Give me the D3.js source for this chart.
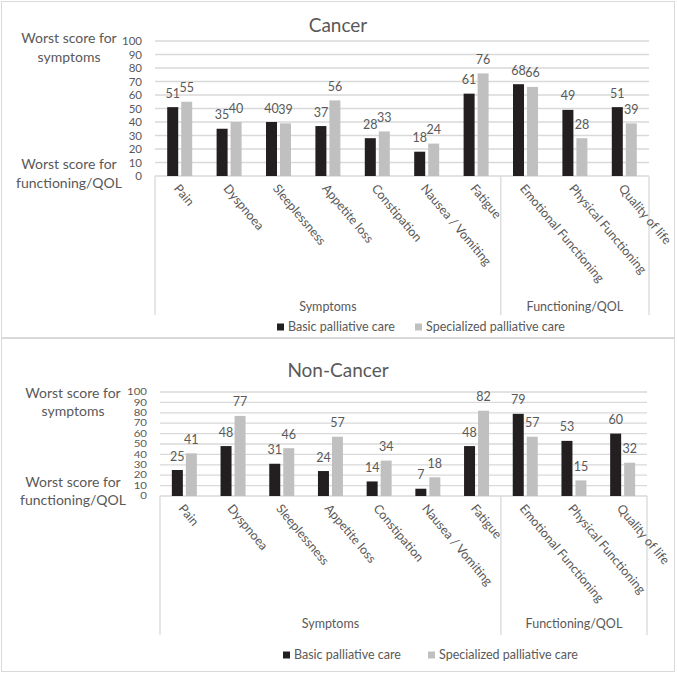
<!DOCTYPE html>
<html>
<head>
<meta charset="utf-8">
<script src="https://cdn.jsdelivr.net/npm/d3@7"></script>
<style>
  body { margin: 0; background: #fff; }
  text { font-family: Lato, "Liberation Sans", sans-serif; fill: #595959; }
</style>
</head>
<body>
<div id="chart"></div>
<script>
var categories = ["Pain", "Dyspnoea", "Sleeplessness", "Appetite loss", "Constipation",
                  "Nausea / Vomiting", "Fatigue", "Emotional Functioning", "Physical Functioning", "Quality of life"];
var groups = ["Symptoms", "Symptoms", "Symptoms", "Symptoms", "Symptoms", "Symptoms", "Symptoms",
              "Functioning/QOL", "Functioning/QOL", "Functioning/QOL"];
var seriesNames = ["Basic palliative care", "Specialized palliative care"];
var cancerBasic = [51, 35, 40, 37, 28, 18, 61, 68, 49, 51];
var cancerSpecialized = [55, 40, 39, 56, 33, 24, 76, 66, 28, 39];
var nonCancerBasic = [25, 48, 31, 24, 14, 7, 48, 79, 53, 60];
var nonCancerSpecialized = [41, 77, 46, 57, 34, 18, 82, 57, 15, 32];
var yTicks = [0, 10, 20, 30, 40, 50, 60, 70, 80, 90, 100];

var colors = ["#231f20", "#c0c0c0"];
var gridColor = "#d9d9d9";

var svg = d3.select("#chart").append("svg")
    .attr("width", 677)
    .attr("height", 677);

function drawPanel(p) {
  var g = svg.append("g");

  // panel border
  g.append("rect")
      .attr("x", 1.5).attr("y", p.top + 0.5)
      .attr("width", 673).attr("height", p.height)
      .attr("fill", "none").attr("stroke", gridColor);

  g.append("text")
      .attr("x", 338).attr("y", p.titleY)
      .attr("text-anchor", "middle")
      .attr("font-size", 19)
      .text(p.title);

  var x0 = d3.scaleBand().domain(categories).range([p.left, p.right]).padding(0);
  var x1 = d3.scaleBand().domain(seriesNames).range([-12.5, 12.5]).paddingInner(0.214);
  var y = d3.scaleLinear().domain([0, 100]).range([p.y0, p.y100]);

  // gridlines
  g.selectAll(".grid").data(yTicks).enter().append("line")
      .attr("x1", p.left).attr("x2", p.right)
      .attr("y1", function(d) { return y(d); })
      .attr("y2", function(d) { return y(d); })
      .attr("stroke", gridColor).attr("stroke-width", 1.3);

  // y tick labels (bottom panel is squeezed, so scale the glyphs vertically)
  g.selectAll(".ytick").data(yTicks).enter().append("text")
      .attr("transform", function(d) {
        return "translate(" + p.tickRight + "," + y(d) + ") scale(" + p.tickScale + ")";
      })
      .attr("dy", "0.35em")
      .attr("text-anchor", "end")
      .attr("font-size", p.tickSize)
      .text(function(d) { return d; });

  // y axis titles
  [[p.yTitleTop, ["Worst score for", "symptoms"]], [p.yTitleBottom, ["Worst score for", "functioning/QOL"]]]
    .forEach(function(t) {
      t[1].forEach(function(line, i) {
        g.append("text")
            .attr("x", p.yTitleX)
            .attr("y", t[0] + i * p.yTitleGap)
            .attr("dy", "0.35em")
            .attr("text-anchor", "middle")
            .attr("font-size", 14)
            .text(line);
      });
    });

  // category group lines
  var splits = [0, 7, 10];
  splits.forEach(function(i) {
    var xx = i < 10 ? x0(categories[i]) : p.right;
    g.append("line")
        .attr("x1", xx).attr("x2", xx)
        .attr("y1", p.y0).attr("y2", p.lineBottom)
        .attr("stroke", gridColor).attr("stroke-width", 1.3);
  });

  // bars
  var series = [p.basic, p.specialized];
  series.forEach(function(vals, s) {
    g.selectAll(".bar" + s).data(vals).enter().append("rect")
        .attr("x", function(d, i) { return x0(categories[i]) + x0.bandwidth() / 2 + x1(seriesNames[s]); })
        .attr("y", function(d) { return y(d); })
        .attr("width", x1.bandwidth())
        .attr("height", function(d) { return y(0) - y(d); })
        .attr("fill", colors[s]);

    g.selectAll(".lab" + s).data(vals).enter().append("text")
        .attr("x", function(d, i) { return x0(categories[i]) + x0.bandwidth() / 2 + x1(seriesNames[s]) + x1.bandwidth() / 2; })
        .attr("y", function(d) { return y(d) - 9.5; })
        .attr("text-anchor", "middle")
        .attr("font-size", 12.5)
        .attr("fill", "#404040")
        .text(function(d) { return d; });
  });

  // rotated category labels
  g.selectAll(".cat").data(categories).enter().append("text")
      .attr("transform", function(d) {
        return "translate(" + (x0(d) + x0.bandwidth() / 2 - 3) + "," + (p.y0 + p.catOffset) + ") rotate(50)";
      })
      .attr("dy", "0.35em")
      .attr("font-size", 12.5)
      .text(function(d) { return d; });

  // group labels
  var groupNames = ["Symptoms", "Functioning/QOL"];
  groupNames.forEach(function(name) {
    var idx = groups.map(function(gr, i) { return gr === name ? i : -1; }).filter(function(i) { return i >= 0; });
    var a = x0(categories[idx[0]]);
    var b = x0(categories[idx[idx.length - 1]]) + x0.bandwidth();
    g.append("text")
        .attr("x", (a + b) / 2).attr("y", p.groupY)
        .attr("dy", "0.35em")
        .attr("text-anchor", "middle")
        .attr("font-size", 12.5)
        .text(name);
  });

  // legend
  seriesNames.forEach(function(name, s) {
    var lx = p.legendX[s];
    g.append("rect")
        .attr("x", lx).attr("y", p.legendY - 3.5)
        .attr("width", 7).attr("height", 7)
        .attr("fill", colors[s]);
    g.append("text")
        .attr("x", lx + 11).attr("y", p.legendY)
        .attr("dy", "0.35em")
        .attr("font-size", 12.5)
        .text(name);
  });
}

drawPanel({
  title: "Cancer", top: 1, height: 336, titleY: 32,
  left: 155, right: 649, y0: 176, y100: 41, tickSize: 11.5, tickScale: "1,1", tickRight: 142,
  yTitleX: 69, yTitleTop: 38, yTitleBottom: 164, yTitleGap: 19,
  lineBottom: 315, catOffset: 10, groupY: 307, legendY: 327, legendX: [277, 415],
  basic: cancerBasic, specialized: cancerSpecialized
});

drawPanel({
  title: "Non-Cancer", top: 338, height: 333, titleY: 377,
  left: 160, right: 647, y0: 496, y100: 392, tickSize: 11.5, tickScale: "1,0.8", tickRight: 147,
  yTitleX: 73, yTitleTop: 393, yTitleBottom: 482, yTitleGap: 18,
  lineBottom: 635, catOffset: 10, groupY: 624, legendY: 655, legendX: [283, 428],
  basic: nonCancerBasic, specialized: nonCancerSpecialized
});
</script>
</body>
</html>
